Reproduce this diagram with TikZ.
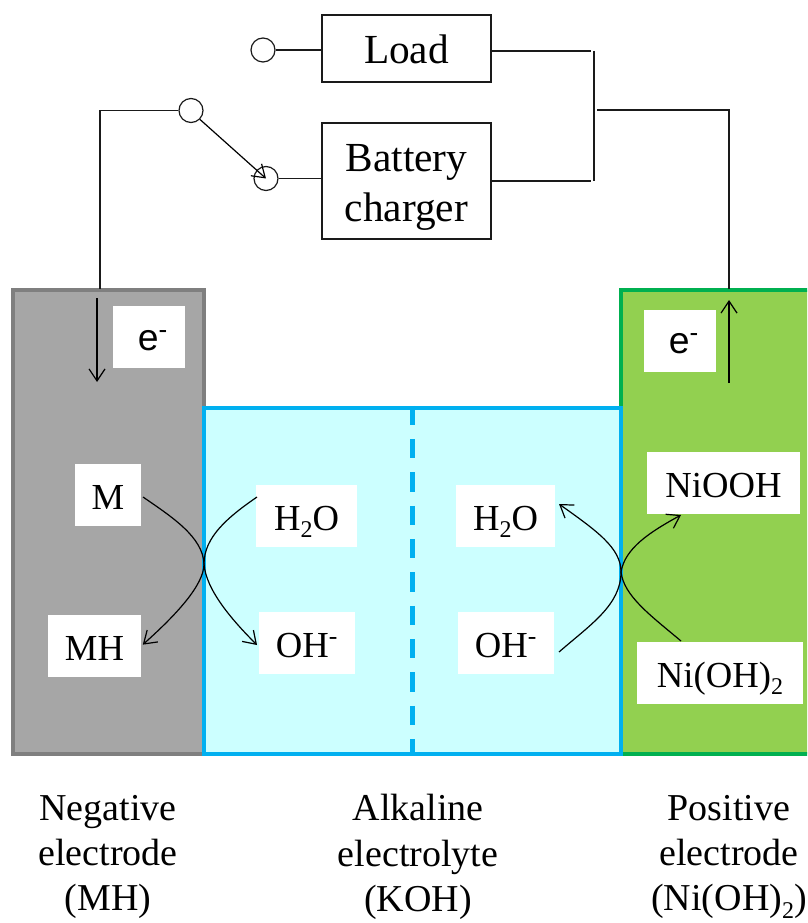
\documentclass[tikz,border=0pt]{standalone}
\usepackage{fontspec}
\setmainfont{Liberation Serif}
\setsansfont{Liberation Sans}
\usetikzlibrary{arrows.meta,positioning,calc}
\definecolor{nimhInk}{HTML}{1A1A1A}
\definecolor{nimhGray}{HTML}{A6A6A6}
\definecolor{nimhGrayEdge}{HTML}{7F7F7F}
\definecolor{nimhBlue}{HTML}{00B0F0}
\definecolor{nimhBlueFill}{HTML}{CCFFFF}
\definecolor{nimhGreen}{HTML}{00B050}
\definecolor{nimhGreenFill}{HTML}{92D050}
\newcommand{\subtwo}[1]{\raisebox{-0.2em}[0pt][0pt]{\fontsize{#1}{#1}\selectfont 2}}
\newcommand{\electron}{\hspace*{6pt}e\textsuperscript{-}}
\tikzset{
  nimhPlate/.style={draw, line width=3.3pt, inner sep=0pt, line join=miter},
  nimhNegative/.style={nimhPlate,fill=nimhGray,draw=nimhGrayEdge},
  nimhElectrolyte/.style={nimhPlate,fill=nimhBlueFill,draw=nimhBlue},
  nimhPositive/.style={nimhPlate,fill=nimhGreenFill,draw=nimhGreen}
}
\begin{document}
\begin{tikzpicture}[
  x=0.75pt, y=-0.75pt,
  box/.style={draw=nimhInk, line width=0.9pt, align=center, minimum width=126.75pt,
    inner sep=0pt, font=\fontsize{31}{37.5}\selectfont},
  terminal/.style={circle, draw=nimhInk, fill=white, line width=0.9pt, minimum size=18pt, inner sep=0pt},
  wire/.style={draw=nimhInk, line width=0.9pt},
  arrow/.style={-{Straight Barb[length=9pt,width=12pt]}, draw=black, line width=0.9pt},
  species/.style={fill=white, inner sep=0pt, minimum height=46.5pt, text height=21pt, text depth=0pt,
    font=\fontsize{27.5}{33}\selectfont},
  charge/.style={fill=white, inner sep=0pt, minimum width=54pt, minimum height=46.5pt,
    text height=20pt, text depth=0pt, font=\sffamily\fontsize{28}{33}\selectfont},
  caption/.style={align=center, inner sep=0pt, font=\fontsize{28.5}{34}\selectfont}
]
\useasboundingbox (0,0) rectangle (807,923);
\clip (0,0) rectangle (807,923);
\node[nimhPositive, minimum width=142.5pt, minimum height=348pt] (positive) at (716,522) {};
\node[nimhNegative, minimum width=143.25pt, minimum height=348pt] (negative) at (108.5,522) {};
\node[nimhElectrolyte, minimum width=312.75pt, minimum height=259.5pt] (electrolyte) at (412.5,581) {};
\draw[nimhBlue, line width=3.5pt, dash pattern=on 14.5pt off 10.5pt] (electrolyte.north) -- (electrolyte.south);
\node[box, minimum height=50.25pt, text height=22pt, text depth=0pt] (load) at (406.5,48.5) {Load};
\node[box, minimum height=87pt] (charger) at (406.5,181) {\rule{0pt}{30pt}Battery\\charger};
\node[terminal] (loadpin) at (263,50) {};
\node[terminal] (switchpin) at (191,110.5) {};
\node[terminal] (chargerpin) at (266,178.5) {};
\coordinate (bustop) at (594,51);
\coordinate (busbottom) at (594,181);
\coordinate (busout) at (597,110);
\coordinate (negativetap) at (100,289);
\coordinate (positivetap) at (729,289);
\draw[wire] (loadpin.east) -- (loadpin.east -| load.west);
\draw[wire] (chargerpin.east) -- (chargerpin.east -| charger.west);
\draw[wire] (bustop) -- (busbottom);
\draw[wire, shorten >=2pt] (load.east |- bustop) -- (bustop);
\draw[wire, shorten >=2pt] (charger.east |- busbottom) -- (busbottom);
\draw[wire] (busout) -| (positivetap);
\draw[wire] (switchpin.west) -| (negativetap);
\draw[arrow] (switchpin.south east) -- (chargerpin.center);
\node[charge] (negcharge) at (149,337) {\electron};
\node[charge] (poscharge) at (680,340.5) {\electron};
\coordinate (negtop) at (97,298);
\coordinate (negtip) at (97,382);
\coordinate (postop) at (729,300);
\coordinate (postip) at (729,383);
\draw[arrow] (negtop) -- (negtip);
\draw[arrow] (postip) -- (postop);
\node[species, minimum width=49.5pt] (metal) at (108,495) {M};
\node[species, minimum width=69.75pt] (hydride) at (94.5,646) {MH};
\node[species, minimum width=75.75pt] (waterleft) at (306.5,516) {H\subtwo{18}O};
\node[species, minimum width=72pt] (hydroxleft) at (307,643) {OH\textsuperscript{-}};
\node[species, minimum width=74.25pt] (waterright) at (505.5,516) {H\subtwo{18}O};
\node[species, minimum width=72pt] (hydroxright) at (506,643) {OH\textsuperscript{-}};
\node[species, minimum width=114.75pt] (oxide) at (723.5,483) {NiOOH};
\node[species, minimum width=124.5pt] (nickel) at (720,673) {Ni(OH)\subtwo{18}};
\coordinate (leftpinch) at (204,564);
\coordinate (rightpinch) at (621,572);
\coordinate (metalout) at (143,497);
\coordinate (waterleftout) at (257,497);
\coordinate (hydroxleftin) at (257,645);
\coordinate (hydroxrightout) at (559,652);
\coordinate (waterrightin) at (559,504);
\coordinate (nickelout) at (681,641);
\coordinate (oxidein) at (681,515);
\draw[arrow, shorten >=1.5pt] (metalout) .. controls (172,517) and (203,537) .. (leftpinch)
  .. controls (204,585) and (176,615) .. (hydride.east);
\draw[arrow] (waterleftout) .. controls (228,517) and (204,537) .. (leftpinch)
  .. controls (206,590) and (232,620) .. (hydroxleftin);
\draw[arrow] (hydroxrightout) .. controls (590,625) and (621,605) .. (rightpinch)
  .. controls (621,548) and (597,531) .. (waterrightin);
\draw[arrow] (nickelout) .. controls (650,615) and (624,596) .. (rightpinch)
  .. controls (625,548) and (650,532) .. (oxidein);
\node[caption] (negativelabel) at (108,857) {Negative\\electrode\\(MH)};
\node[caption] (electrolytelabel) at (418,857) {Alkaline\\electrolyte\\(KOH)};
\node[caption] (positivelabel) at (729,857) {Positive\\electrode\\(Ni(OH)\subtwo{18})};
\end{tikzpicture}
\end{document}
